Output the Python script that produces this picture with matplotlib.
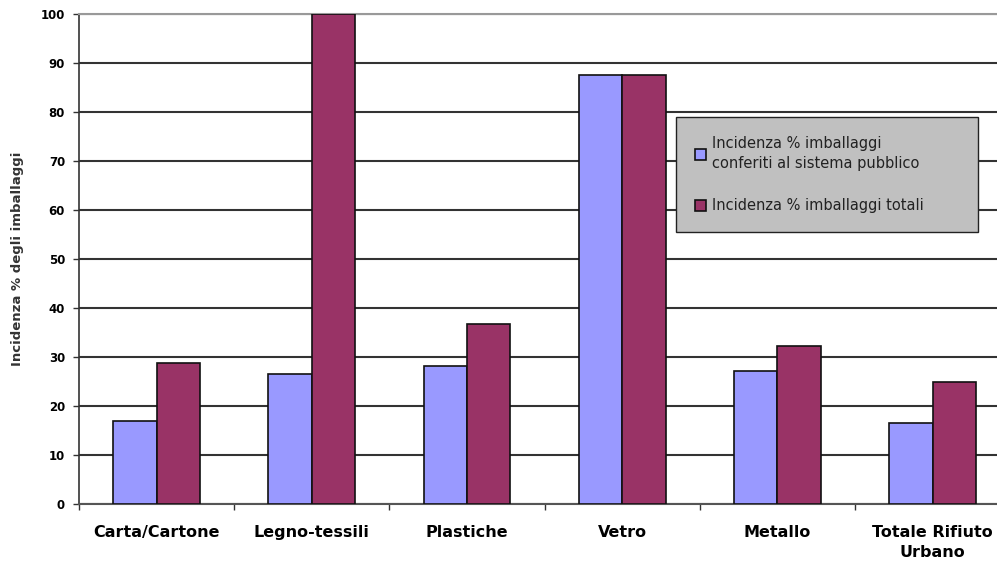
import matplotlib
matplotlib.use("Agg")
import matplotlib.pyplot as plt
import numpy as np

categories = ["Carta/Cartone", "Legno-tessili", "Plastiche", "Vetro", "Metallo", "Totale Rifiuto\nUrbano"]
pubblico = [17.0, 26.5, 28.2, 87.6, 27.2, 16.6]
totali = [28.8, 100.0, 36.7, 87.6, 32.2, 24.9]
series_labels = ["Incidenza % imballaggi\nconferiti al sistema pubblico",
                 "Incidenza % imballaggi totali"]
yticks = list(range(0, 101, 10))

plt.rcParams['font.family'] = ['DejaVu Sans']

fig = plt.figure(figsize=(9.97, 5.62), dpi=100)
ax = fig.add_axes([0.0792, 0.1032, 0.934, 0.872])

x = np.arange(len(categories))
w = 0.28
ax.bar(x - w / 2, pubblico, w, color="#9999FF", edgecolor="#111111", linewidth=1.2,
       label=series_labels[0], zorder=3)
ax.bar(x + w / 2, totali, w, color="#993366", edgecolor="#111111", linewidth=1.2,
       label=series_labels[1], zorder=3)

ax.set_xlim(-0.5, len(categories) - 0.5)
ax.set_ylim(0, 100)
ax.set_yticks(yticks)
ax.set_yticklabels([str(v) for v in yticks], fontsize=8.5, fontweight="bold")
ax.yaxis.grid(True, color="#333333", linewidth=1.5, zorder=0)
ax.set_axisbelow(True)

ax.set_xticks(x)
ax.set_xticklabels(categories, fontsize=11.5, fontweight="bold", linespacing=1.4)
ax.set_xticks(np.arange(-0.5, len(categories), 1), minor=True)
ax.tick_params(axis="x", which="major", length=0, pad=15)
ax.tick_params(axis="x", which="minor", length=4, direction="out", width=1, color="#333333")
ax.tick_params(axis="y", length=4, direction="out", width=1, color="#333333", pad=6)

ax.spines["right"].set_visible(False)
ax.spines["top"].set_color("#999999")
ax.spines["top"].set_linewidth(1.5)
ax.spines["left"].set_color("#333333")
ax.spines["left"].set_linewidth(1.2)
ax.spines["bottom"].set_color("#555555")
ax.spines["bottom"].set_linewidth(1.5)

ax.set_ylabel("Incidenza % degli imballaggi", fontsize=9.5, fontweight="bold",
              color="#333333", labelpad=12)

leg = ax.legend(loc="upper left", bbox_to_anchor=(0.641, 0.545, 0.325, 0.245),
                mode="expand", fontsize=10.5,
                frameon=True, fancybox=False, facecolor="#C0C0C0", edgecolor="#222222",
                framealpha=1, handlelength=0.8, handleheight=0.8, handletextpad=0.4,
                labelspacing=1.9, borderpad=1.3, borderaxespad=0)
leg.get_frame().set_linewidth(1.0)
for t in leg.get_texts():
    t.set_color("#222222")
    t.set_linespacing(1.4)

fig.savefig("out.png", dpi=100)
